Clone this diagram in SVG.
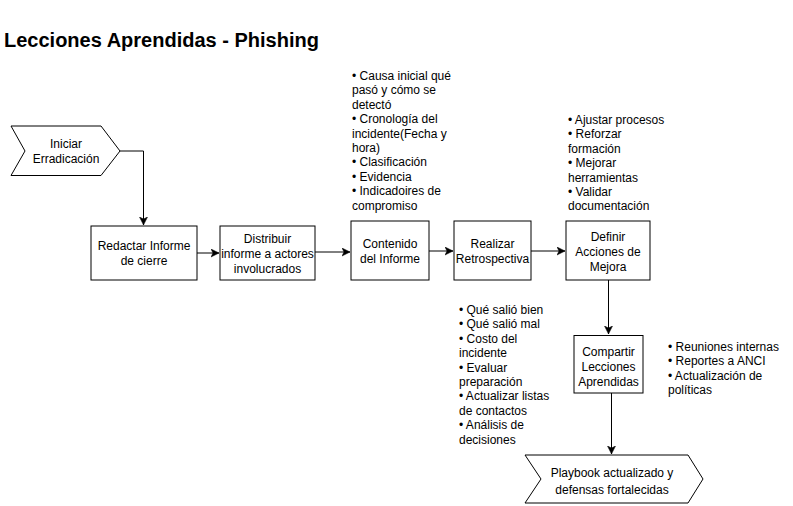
<svg xmlns="http://www.w3.org/2000/svg" width="793" height="506" viewBox="0 0 793 506">
<style>
.t{font-family:"Liberation Sans",Arial,Helvetica,sans-serif;font-size:12px;fill:#000}
.c{text-anchor:middle}
.shape{fill:#fff;stroke:#000;stroke-width:1}
.edge{fill:none;stroke:#000;stroke-width:1}
.title{font-family:"Liberation Sans",Arial,Helvetica,sans-serif;font-size:20px;font-weight:bold;fill:#000}
</style>
<defs>
<marker id="arr" markerUnits="userSpaceOnUse" markerWidth="10" markerHeight="10" refX="8" refY="4" orient="auto">
<path d="M0,0 L8,4 L0,8 L2,4 Z" fill="#000" stroke="#000" stroke-width="0.5"/>
</marker>
</defs>
<rect width="793" height="506" fill="#fff"/>
<text class="title" x="4" y="47">Lecciones Aprendidas - Phishing</text>

<g id="edges">
<path class="edge" d="M120,151 H143.5 V225" marker-end="url(#arr)"/>
<path class="edge" d="M197,253 H219" marker-end="url(#arr)"/>
<path class="edge" d="M315,252 H350" marker-end="url(#arr)"/>
<path class="edge" d="M429,251 H453" marker-end="url(#arr)"/>
<path class="edge" d="M531,251 H565" marker-end="url(#arr)"/>
<path class="edge" d="M608.5,280 V334" marker-end="url(#arr)"/>
<path class="edge" d="M611.5,393 V454" marker-end="url(#arr)"/>
</g>

<g id="start">
<path class="shape" d="M11,126 H101 L120,151 L101,175.5 H11 L25,151 Z"/>
<text class="t c" x="66" y="148">Iniciar</text>
<text class="t c" x="66" y="163">Erradicación</text>
</g>

<g id="redactar">
<rect class="shape" x="91" y="226" width="106" height="54"/>
<text class="t c" x="144" y="250">Redactar Informe</text>
<text class="t c" x="144" y="265">de cierre</text>
</g>

<g id="distribuir">
<rect class="shape" x="220" y="226" width="95" height="54"/>
<text class="t c" x="267.5" y="243">Distribuir</text>
<text class="t c" x="267.5" y="258">informe a actores</text>
<text class="t c" x="267.5" y="273">involucrados</text>
</g>

<g id="contenido">
<rect class="shape" x="351" y="221" width="78" height="59"/>
<text class="t c" x="390" y="248">Contenido</text>
<text class="t c" x="390" y="263">del Informe</text>
</g>

<g id="realizar">
<rect class="shape" x="454" y="221" width="77" height="59"/>
<text class="t c" x="492.5" y="248">Realizar</text>
<text class="t c" x="492.5" y="263">Retrospectiva</text>
</g>

<g id="definir">
<rect class="shape" x="566" y="221" width="84" height="59"/>
<text class="t c" x="608" y="241">Definir</text>
<text class="t c" x="608" y="256">Acciones de</text>
<text class="t c" x="608" y="271">Mejora</text>
</g>

<g id="compartir">
<rect class="shape" x="574" y="335.5" width="69" height="57.5"/>
<text class="t c" x="608.5" y="356">Compartir</text>
<text class="t c" x="608.5" y="371">Lecciones</text>
<text class="t c" x="608.5" y="386">Aprendidas</text>
</g>

<g id="end">
<path class="shape" d="M525,455 H688 L703,479 L688,503 H525 L541,479 Z"/>
<text class="t c" x="612" y="477">Playbook actualizado y</text>
<text class="t c" x="612" y="494">defensas fortalecidas</text>
</g>

<g id="note-contenido">
<text class="t" x="352" y="80">
<tspan x="352" dy="0">• Causa inicial qué</tspan>
<tspan x="352" dy="14.4">pasó y cómo se</tspan>
<tspan x="352" dy="14.4">detectó</tspan>
<tspan x="352" dy="14.4">• Cronología del</tspan>
<tspan x="352" dy="14.4">incidente(Fecha y</tspan>
<tspan x="352" dy="14.4">hora)</tspan>
<tspan x="352" dy="14.4">• Clasificación</tspan>
<tspan x="352" dy="14.4">• Evidencia</tspan>
<tspan x="352" dy="14.4">• Indicadoires de</tspan>
<tspan x="352" dy="14.4">compromiso</tspan>
</text>
</g>

<g id="note-definir">
<text class="t" x="568" y="124">
<tspan x="568" dy="0">• Ajustar procesos</tspan>
<tspan x="568" dy="14.4">• Reforzar</tspan>
<tspan x="568" dy="14.4">formación</tspan>
<tspan x="568" dy="14.4">• Mejorar</tspan>
<tspan x="568" dy="14.4">herramientas</tspan>
<tspan x="568" dy="14.4">• Validar</tspan>
<tspan x="568" dy="14.4">documentación</tspan>
</text>
</g>

<g id="note-retro">
<text class="t" x="459" y="314">
<tspan x="459" dy="0">• Qué salió bien</tspan>
<tspan x="459" dy="14.4">• Qué salió mal</tspan>
<tspan x="459" dy="14.4">• Costo del</tspan>
<tspan x="459" dy="14.4">incidente</tspan>
<tspan x="459" dy="14.4">• Evaluar</tspan>
<tspan x="459" dy="14.4">preparación</tspan>
<tspan x="459" dy="14.4">• Actualizar listas</tspan>
<tspan x="459" dy="14.4">de contactos</tspan>
<tspan x="459" dy="14.4">• Análisis de</tspan>
<tspan x="459" dy="14.4">decisiones</tspan>
</text>
</g>

<g id="note-compartir">
<text class="t" x="668" y="351">
<tspan x="668" dy="0">• Reuniones internas</tspan>
<tspan x="668" dy="14.4">• Reportes a ANCI</tspan>
<tspan x="668" dy="14.4">• Actualización de</tspan>
<tspan x="668" dy="14.4">políticas</tspan>
</text>
</g>
</svg>
